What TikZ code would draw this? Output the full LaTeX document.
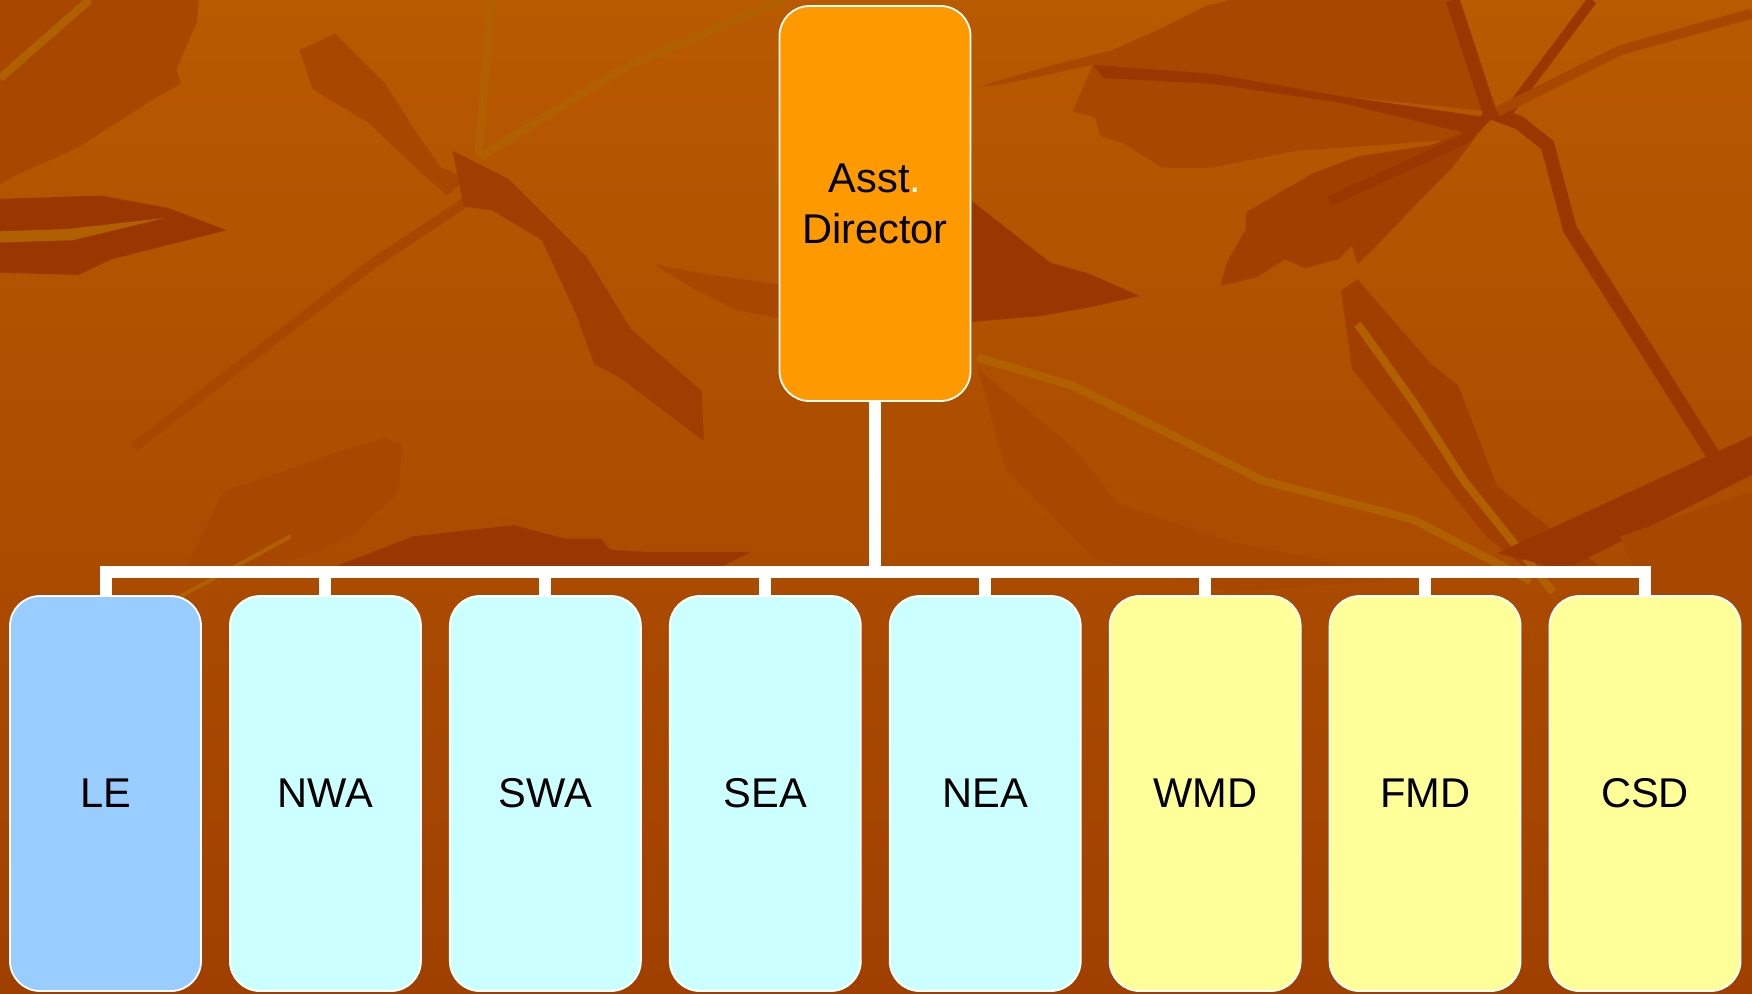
\documentclass[tikz,border=0pt]{standalone}
\usepackage{fontspec}
\setmainfont{Liberation Sans}
\definecolor{bgtop}{HTML}{B85A00}
\definecolor{bgbot}{HTML}{A04000}
\definecolor{dk}{HTML}{9A3600}
\definecolor{md}{HTML}{A84800}
\definecolor{lt}{HTML}{B06000}
\definecolor{topc}{HTML}{FF9900}
\definecolor{lec}{HTML}{99CCFF}
\definecolor{cyc}{HTML}{CCFFFF}
\definecolor{yec}{HTML}{FFFF99}
\tikzset{
  box/.style={draw=white, line width=0.9pt, rounded corners=15pt,
    minimum width=95.5pt, minimum height=197.5pt, inner sep=0pt,
    font=\fontsize{20.8}{25.5}\selectfont, align=center, text=black},
  conn/.style={draw=white, line width=6pt, line join=miter},
  stemd/.style={draw=dk, line width=5pt},
  stemm/.style={draw=md, line width=5pt},
  steml/.style={draw=lt, line width=4pt}
}
\begin{document}
\begin{tikzpicture}[x=0.5pt,y=-0.5pt]
\useasboundingbox (0,0) rectangle (1752,993);
\shade[top color=bgtop, bottom color=bgbot] (0,0) rectangle (1752,993);
% background leaves (coordinates of the shrunk view)
\begin{scope}[scale=1.11735]
\fill[md] (0,0)--(178,0)--(176,20)--(158,62)--(162,75)--(132,92)--(70,132)--(12,158)--(0,165)--cycle;
\fill[dk] (0,178)--(90,175)--(150,186)--(203,206)--(100,232)--(70,246)--(0,244)--cycle;
\fill[lt] (0,207)--(60,205)--(148,195)--(65,215)--(0,217)--cycle;
\draw[steml] (0,70)--(80,0);
\draw[steml] (428,140)--(440,0);
\draw[steml] (430,140)--(560,60)--(700,0);
\draw[stemm] (418,180)--(335,235)--(120,400);
\fill[md] (300,30)--(345,75)--(372,118)--(395,150)--(418,160)--(400,175)--(372,150)--(330,110)--(280,80)--(268,45)--cycle;
\fill[dk!60!md] (405,135)--(455,160)--(525,230)--(565,295)--(628,350)--(630,395)--(555,338)--(532,326)--(515,280)--(485,215)--(440,188)--(415,185)--cycle;
\fill[md] (586,237)--(630,245)--(700,255)--(700,285)--(660,278)--(620,258)--cycle;
\fill[dk] (300,507)--(370,480)--(460,470)--(505,482)--(538,482)--(546,492)--(580,494)--(672,494)--(640,510)--(300,510)--cycle;
\fill[md] (165,510)--(200,440)--(245,425)--(300,405)--(345,392)--(360,398)--(357,440)--(320,475)--(280,495)--(230,510)--cycle;
\draw[steml,line width=2pt] (150,540)--(260,480);
% right side
\fill[md] (875,78)--(935,60)--(995,45)--(1040,25)--(1080,5)--(1100,0)--(1300,0)--(1335,100)--(1200,86)--(1085,70)--(988,68)--(978,58)--(900,75)--cycle;
\fill[md] (978,58)--(1085,66)--(1200,86)--(1330,105)--(1300,125)--(1230,130)--(1160,135)--(1085,150)--(1040,150)--(1005,128)--(985,122)--(980,105)--(960,100)--cycle;
\fill[dk] (978,58)--(1085,66)--(1200,86)--(1330,105)--(1315,120)--(1200,92)--(1085,75)--(988,70)--cycle;
\fill[dk!50!md] (1115,190)--(1175,155)--(1215,140)--(1280,130)--(1330,110)--(1300,150)--(1270,180)--(1230,222)--(1215,236)--(1210,220)--(1198,232)--(1168,240)--(1150,232)--(1125,248)--(1092,256)--(1098,235)--(1115,205)--cycle;
\draw[stemd] (1190,180)--(1310,125)--(1335,100);
\draw[stemd, line width=7pt] (1300,0)--(1333,100)--(1360,110)--(1385,130)--(1405,205)--(1535,410);
\draw[stemd] (1350,100)--(1425,0);
\draw[stemm] (1340,100)--(1450,45)--(1568,12);
\fill[dk] (870,180)--(940,235)--(975,245)--(1020,265)--(975,275)--(930,283)--(870,288)--cycle;
\fill[md] (875,330)--(960,400)--(1000,450)--(1100,485)--(1180,500)--(1240,520)--(1100,530)--(980,500)--(900,420)--cycle;
\fill[dk!50!md] (1200,260)--(1215,250)--(1280,325)--(1305,345)--(1340,435)--(1390,475)--(1430,505)--(1380,520)--(1330,480)--(1290,430)--(1250,380)--(1210,330)--cycle;
\draw[steml] (875,320)--(960,345)--(1130,430)--(1265,465)--(1370,520);
\draw[steml] (1215,290)--(1265,360)--(1310,430)--(1390,530);
\fill[dk] (1340,495)--(1568,390)--(1568,425)--(1400,510)--cycle;
\fill[md] (1450,480)--(1568,440)--(1568,600)--(1500,600)--cycle;
\end{scope}
% nodes
\node[box, fill=topc] (ad) at (875,203.5) {Asst\textcolor{white}{.}\\Director};
\coordinate (bar) at (0,572);
\foreach \n/\t/\c [count=\i from 0] in {le/LE/lec, nwa/NWA/cyc, swa/SWA/cyc, sea/SEA/cyc, nea/NEA/cyc, wmd/WMD/yec, fmd/FMD/yec, csd/CSD/yec}{
  \node[box, fill=\c] (\n) at ({105.5+\i*219.93},793.5) {\t};
}
\foreach \n in {le,nwa,swa,sea,nea,wmd,fmd,csd}{
  \draw[conn] (ad.south) -- (ad.south |- bar) -| (\n.north);
}
\end{tikzpicture}
\end{document}
